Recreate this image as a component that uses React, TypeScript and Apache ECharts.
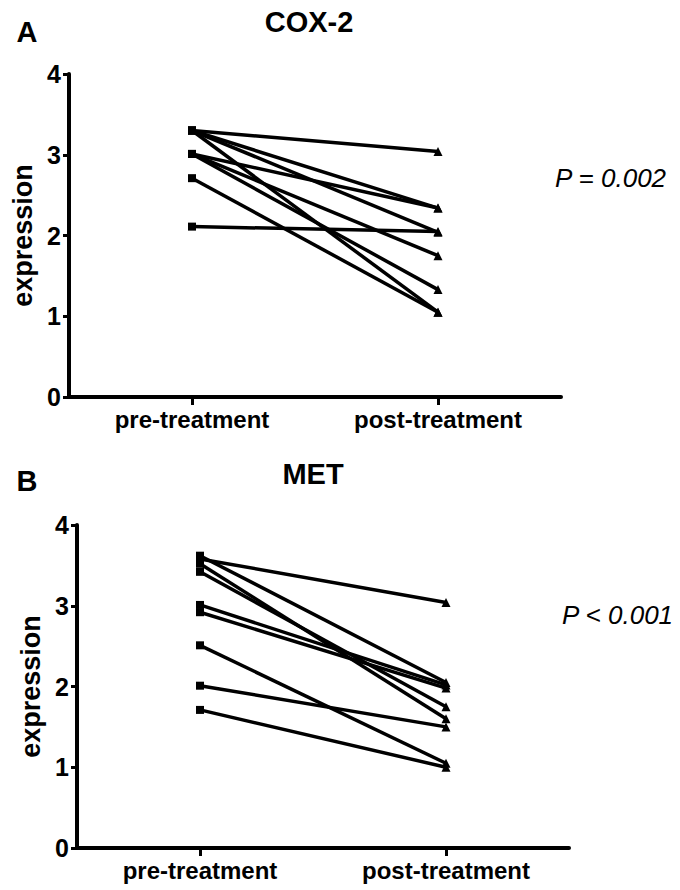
import React, { useEffect, useRef } from "react";
import * as echarts from "echarts";

const categories = ["pre-treatment", "post-treatment"];
const yTicks = [0, 1, 2, 3, 4];

// COX-2 paired values (pre, post)
const coxPre = [3.3, 3.3, 3.3, 3.3, 3.01, 3.01, 3.01, 2.71, 2.11];
const coxPost = [3.04, 2.34, 2.04, 1.05, 2.34, 1.75, 1.33, 1.05, 2.05];

// MET paired values (pre, post)
const metPre = [3.58, 3.62, 3.52, 3.42, 3.01, 2.92, 2.51, 2.01, 1.71];
const metPost = [3.04, 2.05, 1.6, 1.75, 2.02, 1.98, 1.05, 1.5, 1.0];

const panelLabels = ["A", "B"];
const panelTitles = ["COX-2", "MET"];
const pValues = ["P = 0.002", "P < 0.001"];
const yName = "expression";

const FONT = "'Liberation Sans', Arial, Helvetica, sans-serif";

export default function App() {
  const ref = useRef<HTMLDivElement>(null);

  useEffect(() => {
    if (!ref.current) return;
    const chart = echarts.init(ref.current, null, { renderer: "svg" });

    const grids = [
      { left: 69, top: 74, width: 492, height: 323 },
      { left: 77, top: 525, width: 492, height: 323 },
    ];

    const axisLine = { show: true, lineStyle: { color: "#000", width: 4 } };

    const xAxes = grids.map((_, i) => ({
      type: "category",
      gridIndex: i,
      data: categories,
      boundaryGap: true,
      axisLine,
      axisTick: { show: true, alignWithLabel: true, length: 8, lineStyle: { color: "#000", width: 3 } },
      axisLabel: { color: "#000", fontFamily: FONT, fontWeight: "bold", fontSize: 24, margin: 10 },
      splitLine: { show: false },
    }));

    const yAxes = grids.map((_, i) => ({
      type: "value",
      gridIndex: i,
      min: yTicks[0],
      max: yTicks[yTicks.length - 1],
      interval: 1,
      name: yName,
      nameLocation: "middle",
      nameRotate: 90,
      nameGap: 28,
      nameTextStyle: { color: "#000", fontFamily: FONT, fontWeight: "bold", fontSize: 27 },
      axisLine,
      axisTick: { show: true, length: 6, lineStyle: { color: "#000", width: 3 } },
      axisLabel: { color: "#000", fontFamily: FONT, fontWeight: "bold", fontSize: 25, margin: 8 },
      splitLine: { show: false },
    }));

    const makeSeries = (pre: number[], post: number[], idx: number) =>
      pre.map((p, k) => ({
        type: "line",
        xAxisIndex: idx,
        yAxisIndex: idx,
        data: [
          { value: p, symbol: "rect", symbolSize: 8 },
          { value: post[k], symbol: "triangle", symbolSize: 9 },
        ],
        lineStyle: { color: "#000", width: 3.5 },
        itemStyle: { color: "#000" },
        showSymbol: true,
        silent: true,
      }));

    const series = [...makeSeries(coxPre, coxPost, 0), ...makeSeries(metPre, metPost, 1)];

    const labelPos = [
      { x: 27, y: 32 },
      { x: 27, y: 481 },
    ];
    const titlePos = [
      { x: 309, y: 22 },
      { x: 313, y: 474 },
    ];
    const pPos = [
      { x: 555, y: 178 },
      { x: 562, y: 615 },
    ];

    const graphic: any[] = [];
    for (let i = 0; i < 2; i++) {
      graphic.push({
        type: "text",
        x: labelPos[i].x,
        y: labelPos[i].y,
        style: { text: panelLabels[i], fill: "#000", font: `bold 29px ${FONT}`, textAlign: "center", textVerticalAlign: "middle" },
      });
      graphic.push({
        type: "text",
        x: titlePos[i].x,
        y: titlePos[i].y,
        style: { text: panelTitles[i], fill: "#000", font: `bold 29px ${FONT}`, textAlign: "center", textVerticalAlign: "middle" },
      });
      graphic.push({
        type: "text",
        x: pPos[i].x,
        y: pPos[i].y,
        style: { text: pValues[i], fill: "#000", font: `italic 26px ${FONT}`, textAlign: "left", textVerticalAlign: "middle" },
      });
    }

    chart.setOption({
      animation: false,
      backgroundColor: "#fff",
      grid: grids,
      xAxis: xAxes,
      yAxis: yAxes,
      series,
      graphic,
    });

    return () => chart.dispose();
  }, []);

  return (
    <div
      ref={ref}
      style={{ position: "absolute", left: 0, top: 0, width: 680, height: 890, background: "#fff" }}
    />
  );
}
